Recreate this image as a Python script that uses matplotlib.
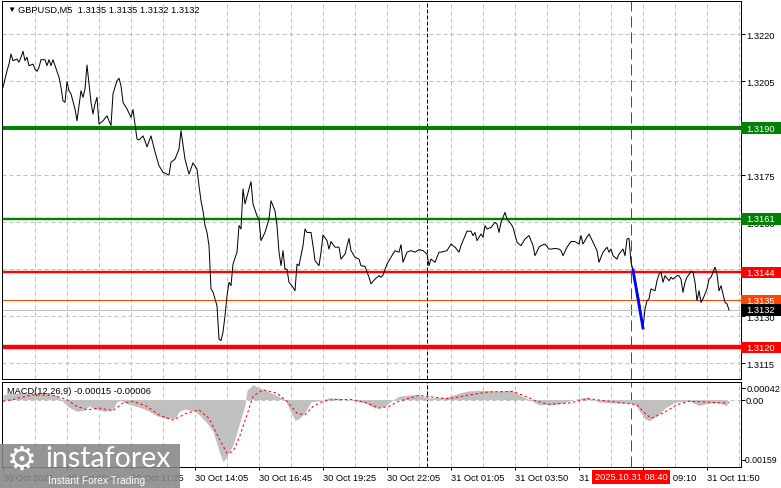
import matplotlib
matplotlib.use('Agg')
import matplotlib.pyplot as plt
from matplotlib.patches import Rectangle
import matplotlib.transforms as mtrans
from matplotlib.lines import Line2D

plt.rcParams['font.family'] = ['Liberation Sans', 'DejaVu Sans']

W, H = 781, 489

symbol_title = "GBPUSD,M5  1.3135 1.3135 1.3132 1.3132"
macd_title = "MACD(12,26,9) -0.00015 -0.00006"

# price line (bar index, close)
price_bars = [
    0, 2, 3, 4, 5, 7, 8, 9, 10, 11,
    12, 13, 15, 16, 17, 18, 19, 21, 22, 23,
    24, 25, 26, 28, 29, 30, 31, 32, 33, 34,
    36, 37, 38, 39, 40, 41, 42, 43, 44, 45,
    46, 47, 48, 50, 52, 53, 54, 55, 57, 58,
    59, 60, 61, 62, 64, 65, 66, 67, 68, 70,
    71, 72, 74, 76, 78, 80, 83, 84, 86, 88,
    89, 91, 93, 95, 97, 98, 99, 100, 101, 102,
    103, 104, 105, 107, 108, 109, 110, 111, 112, 113,
    114, 115, 117, 118, 119, 120, 121, 123, 124, 125,
    127, 128, 129, 131, 133, 134, 136, 137, 138, 139,
    140, 141, 142, 143, 145, 146, 147, 148, 150, 151,
    152, 154, 155, 156, 158, 159, 160, 162, 163, 164,
    166, 168, 169, 171, 173, 174, 176, 178, 179, 181,
    183, 184, 186, 188, 189, 190, 192, 194, 196, 198,
    199, 200, 202, 204, 206, 208, 210, 212, 213, 214,
    216, 218, 219, 222, 224, 226, 228, 229, 232, 234,
    235, 236, 237, 239, 240, 241, 242, 244, 246, 247,
    248, 249, 251, 252, 254, 255, 257, 258, 259, 261,
    263, 264, 265, 266, 268, 269, 271, 273, 274, 276,
    278, 279, 280, 282, 284, 286, 288, 289, 290, 292,
    293, 295, 297, 298, 300, 302, 303, 304, 305, 307,
    308, 310, 311, 312, 313, 314, 315, 318, 320, 321,
    322, 323, 324, 326, 327, 328, 329, 330, 331, 333,
    334, 335, 337, 338, 339, 340, 341, 342, 344, 345,
    346, 347, 348, 349, 350, 352, 353, 354, 356, 357,
    358, 359, 360, 361, 362, 363]
price_close = [
    1.32030, 1.32083, 1.32104, 1.32136, 1.32115, 1.32120, 1.32110, 1.32126, 1.32145, 1.32115,
    1.32126, 1.32099, 1.32104, 1.32088, 1.32081, 1.32094, 1.32118, 1.32118, 1.32099, 1.32118,
    1.32099, 1.32118, 1.32099, 1.32062, 1.32030, 1.31987, 1.31982, 1.32048, 1.32019, 1.32009,
    1.31961, 1.31923, 1.31971, 1.32019, 1.31998, 1.32025, 1.32101, 1.32041, 1.31982, 1.31945,
    1.31977, 1.31998, 1.31913, 1.31923, 1.31939, 1.31923, 1.31908, 1.32009, 1.32051, 1.32059,
    1.32035, 1.31982, 1.31971, 1.31961, 1.31934, 1.31959, 1.31913, 1.31865, 1.31862, 1.31875,
    1.31859, 1.31840, 1.31875, 1.31824, 1.31780, 1.31759, 1.31750, 1.31791, 1.31801, 1.31833,
    1.31892, 1.31801, 1.31753, 1.31789, 1.31769, 1.31716, 1.31668, 1.31636, 1.31589, 1.31567,
    1.31525, 1.31387, 1.31377, 1.31333, 1.31227, 1.31222, 1.31249, 1.31301, 1.31365, 1.31408,
    1.31397, 1.31466, 1.31504, 1.31589, 1.31578, 1.31706, 1.31658, 1.31706, 1.31729, 1.31658,
    1.31620, 1.31610, 1.31541, 1.31567, 1.31610, 1.31668, 1.31636, 1.31589, 1.31504, 1.31461,
    1.31509, 1.31450, 1.31450, 1.31408, 1.31392, 1.31381, 1.31466, 1.31461, 1.31525, 1.31578,
    1.31567, 1.31567, 1.31525, 1.31477, 1.31461, 1.31504, 1.31559, 1.31541, 1.31514, 1.31538,
    1.31520, 1.31520, 1.31482, 1.31498, 1.31548, 1.31509, 1.31488, 1.31482, 1.31461, 1.31459,
    1.31424, 1.31403, 1.31418, 1.31429, 1.31424, 1.31431, 1.31466, 1.31488, 1.31509, 1.31504,
    1.31528, 1.31472, 1.31504, 1.31509, 1.31504, 1.31512, 1.31509, 1.31498, 1.31461, 1.31482,
    1.31472, 1.31504, 1.31504, 1.31509, 1.31530, 1.31520, 1.31504, 1.31525, 1.31571, 1.31571,
    1.31557, 1.31567, 1.31541, 1.31562, 1.31552, 1.31589, 1.31578, 1.31583, 1.31599, 1.31594,
    1.31567, 1.31599, 1.31631, 1.31610, 1.31594, 1.31583, 1.31536, 1.31530, 1.31525, 1.31546,
    1.31557, 1.31541, 1.31525, 1.31493, 1.31520, 1.31525, 1.31530, 1.31514, 1.31514, 1.31516,
    1.31514, 1.31509, 1.31493, 1.31520, 1.31538, 1.31538, 1.31530, 1.31557, 1.31530, 1.31552,
    1.31562, 1.31536, 1.31509, 1.31472, 1.31504, 1.31520, 1.31504, 1.31514, 1.31493, 1.31482,
    1.31498, 1.31514, 1.31493, 1.31546, 1.31548, 1.31472, 1.31447, 1.31355, 1.31262, 1.31323,
    1.31349, 1.31355, 1.31387, 1.31381, 1.31413, 1.31434, 1.31440, 1.31408, 1.31429, 1.31413,
    1.31424, 1.31418, 1.31429, 1.31429, 1.31418, 1.31376, 1.31408, 1.31424, 1.31442, 1.31440,
    1.31408, 1.31349, 1.31381, 1.31344, 1.31355, 1.31387, 1.31418, 1.31424, 1.31456, 1.31434,
    1.31381, 1.31397, 1.31371, 1.31344, 1.31339, 1.31320]
assert len(price_bars) == len(price_close)

# blue trend segment
trend_bars = [315, 320]
trend_vals = [1.31447, 1.31262]

# horizontal levels
level_vals = [1.3190, 1.3161, 1.3144, 1.3135, 1.3132, 1.3120]
level_labels = ['1.3190', '1.3161', '1.3144', '1.3135', '1.3132', '1.3120']
level_line_colors = ['#008000', '#008000', '#FF0000', '#FF4500', '#C0C0C0', '#FF0000']
level_box_colors = ['#008000', '#008000', '#FF0000', '#FF4500', '#000000', '#FF0000']
level_line_px = [4.0, 2.4, 2.4, 1.0, 1.0, 4.4]

price_ticks = [1.3220, 1.3205, 1.3190, 1.3175, 1.3160, 1.3145, 1.3130, 1.3115]
price_tick_labels = ['1.3220', '1.3205', '1.3190', '1.3175', '1.3160', '1.3145', '1.3130', '1.3115']

time_tick_bars = [0, 32, 64, 96, 128, 160, 192, 224, 256, 288, 320, 352]
time_tick_labels = ['30 Oct 2025', '30 Oct 08:45', '30 Oct 11:25', '30 Oct 14:05',
                    '30 Oct 16:45', '30 Oct 19:25', '30 Oct 22:05', '31 Oct 01:05',
                    '31 Oct 03:50', '31 Oct 06:30', '31 Oct 09:10', '31 Oct 11:50']
separator_bar = 212
cursor_bar = 314
cursor_label = '2025.10.31 08:40'

# MACD histogram and signal
hist_bars = [0, 5, 12, 21, 27, 30, 33, 37, 41, 43,
             46, 51, 55, 57, 59, 62, 67, 72, 77, 81,
             86, 88, 91, 96, 98, 102, 105, 108, 110, 111,
             115, 118, 121, 122, 125, 127, 132, 137, 141, 144,
             146, 148, 151, 154, 158, 163, 168, 176, 181, 186,
             191, 194, 198, 206, 213, 221, 226, 232, 238, 248,
             254, 258, 263, 268, 276, 282, 287, 292, 298, 306,
             312, 316, 318, 321, 323, 327, 331, 336, 343, 348,
             353, 358, 362]
hist_vals = [0.00012, 0.00015, 0.00015, 0.00016, 0.0001, -0.00005, -0.00018, -0.00028, -0.00024, -0.00015,
             -0.00022, -0.00028, -0.00022, -0.00005, -0.00002, -0.0001, -0.00016, -0.00025, -0.00038, -0.00044,
             -0.00044, -0.00028, -0.00022, -0.00028, -0.00035, -0.00055, -0.00075, -0.0012, -0.00146, -0.0014,
             -0.00107, -0.0006, -0.00012, 0.00022, 0.00035, 0.0003, 0.0002, 0.0001, 0.0, -0.0003,
             -0.00048, -0.00045, -0.0003, -0.00005, -0.00003, 0.00004, 0.00003, -0.00003, -0.00008, -0.0002,
             -0.00016, -0.00004, 0.00008, 0.00012, 0.00004, 0.00005, 0.00012, 0.0002, 0.00022, 0.0002,
             0.00022, 0.00012, 0.0, -0.00012, -0.00012, -0.00005, 0.00002, 0.00006, -0.00006, -0.00008,
             -0.00008, -0.0001, -0.00025, -0.00045, -0.0005, -0.00038, -0.0002, -0.00006, -0.00003, -0.00014,
             -0.00008, -0.00008, -0.00015]
sig_bars = [0, 5, 9, 15, 25, 32, 37, 42, 48, 55,
            60, 65, 72, 78, 85, 92, 98, 103, 108, 112,
            115, 118, 122, 125, 130, 137, 142, 147, 151, 155,
            160, 165, 175, 182, 188, 193, 198, 208, 218, 223,
            233, 243, 255, 260, 267, 273, 283, 293, 303, 310,
            317, 320, 324, 330, 337, 343, 352, 360, 363]
sig_vals = [-0.00004, 0.0, 0.00005, 0.00011, 0.0001, 0.0, -0.00016, -0.00024, -0.0002, -0.00026,
            -0.00008, -0.00004, -0.00016, -0.00036, -0.00048, -0.00032, -0.00024, -0.00044, -0.00091, -0.00126,
            -0.00122, -0.00091, -0.00036, 0.00008, 0.00023, 0.00015, -0.00004, -0.00032, -0.00036, -0.00016,
            -0.00004, 0.0, 0.0, -0.00008, -0.0002, -0.00016, -0.00004, 0.0001, 0.00004, 0.00002,
            0.00011, 0.00018, 0.00019, 0.0001, -0.00004, -0.00011, -0.00008, 0.00002, -0.00004, -0.00008,
            -0.00012, -0.00028, -0.00044, -0.00032, -0.00012, -0.00004, -0.00006, -0.00008, -0.00006]
macd_max_label = '0.00042'
macd_min_label = '-0.00159'
macd_lim = (-0.00159, 0.00042)

PX = 0.72  # points per pixel at 100 dpi
FS = 6.7
GRID = '#C0C0C0'

fig = plt.figure(figsize=(W / 100, H / 100), dpi=100)
fig.patch.set_facecolor('white')


def fx(px):
    return px / W


def fy(py):
    return 1 - py / H


ax = fig.add_axes([fx(2), fy(380), fx(740.7) - fx(2), fy(2) - fy(380)])
ax2 = fig.add_axes([fx(2), fy(468.3), fx(740.7) - fx(2), fy(382.7) - fy(468.3)])

xlim = (-0.5, 368.85)
for a in (ax, ax2):
    a.set_xlim(*xlim)
    for s in a.spines.values():
        s.set_color('black')
        s.set_linewidth(1.0 * PX)
    a.set_facecolor('white')
    for b in range(16, 369, 16):
        a.axvline(b, color=GRID, lw=PX, ls=(0, (4, 3)), zorder=0)
    a.axvline(separator_bar, color='black', lw=PX, ls=(0, (4, 2)), zorder=1)
    a.axvline(cursor_bar, color='#FF0000', lw=PX, ls=(0, (11, 5)), zorder=1)

# ---- main panel ----
ax.set_ylim(1.310995, 1.323053)
for t in price_ticks:
    ax.axhline(t, color=GRID, lw=PX, ls=(0, (4, 3)), zorder=0)
ax.yaxis.tick_right()
ax.set_yticks(price_ticks)
ax.set_yticklabels(price_tick_labels)
ax.tick_params(axis='y', direction='out', length=4 * PX, width=PX, pad=1.0, labelsize=FS, colors='black')
ax.set_xticks([])

for v, c, w in zip(level_vals, level_line_colors, level_line_px):
    ax.axhline(v, color=c, lw=w * PX, zorder=2)

ax.plot(price_bars, price_close, color='black', lw=1.0 * PX, zorder=4)
ax.plot(trend_bars, trend_vals, color='#0000FF', lw=2.8 * PX, zorder=5)

blend = mtrans.blended_transform_factory(fig.transFigure, ax.transData)
box_h = 11.5 / 31333.0
for v, lab, bc in zip(level_vals, level_labels, level_box_colors):
    r = Rectangle((fx(741.2), v - box_h / 2), fx(781) - fx(741.2), box_h, transform=blend,
                  facecolor=bc, edgecolor='none', clip_on=False, zorder=10)
    ax.add_artist(r)
    ax.text(fx(746.0), v, lab, transform=blend, color='white', fontsize=FS, va='center', ha='left',
            clip_on=False, zorder=11)

fig.text(fx(7), fy(10.5), '\u25BC', fontsize=6, va='center', ha='left', color='black')
fig.text(fx(18), fy(10.5), symbol_title, fontsize=FS, va='center', ha='left', color='black')

# ---- MACD panel ----
ax2.set_ylim(*macd_lim)
ax2.axhline(0, color=GRID, lw=PX, ls=(0, (4, 3)), zorder=0)
ax2.fill_between(hist_bars, hist_vals, 0, color='#C0C0C0', lw=0, zorder=2)
ax2.plot(sig_bars, sig_vals, color='#FF0000', lw=1.0 * PX, ls=(0, (2.5, 2.5)), zorder=3)
ax2.yaxis.tick_right()
ax2.set_yticks([0.0])
ax2.set_yticklabels(['0.00'])
ax2.tick_params(axis='y', direction='out', length=4 * PX, width=PX, pad=1.0, labelsize=FS, colors='black')
ax2.text(1.0 + 5.5 / 738.7, 0.925, macd_max_label, transform=ax2.transAxes, fontsize=FS,
         va='center', ha='left', clip_on=False)
ax2.text(1.0 + 2.0 / 738.7, 0.09, macd_min_label, transform=ax2.transAxes, fontsize=6.3,
         va='center', ha='left', clip_on=False)
for yy in (0.925, 0.09):
    ax2.add_line(Line2D([1.0, 1.0 + 4 / 738.7], [yy, yy], transform=ax2.transAxes, color='black',
                        lw=PX, clip_on=False))
ax2.text(0.0 + 5 / 738.7, 0.9, macd_title, transform=ax2.transAxes, fontsize=FS,
         va='center', ha='left', zorder=6)

ax2.set_xticks(time_tick_bars)
ax2.set_xticklabels(time_tick_labels)
for lbl in ax2.get_xticklabels():
    lbl.set_horizontalalignment('left')
ax2.tick_params(axis='x', direction='out', length=3 * PX, width=PX, pad=2.0, labelsize=FS, colors='black')

xblend = mtrans.blended_transform_factory(ax2.transData, fig.transFigure)
ax2.text(cursor_bar, fy(477.8), cursor_label, transform=xblend, fontsize=FS, color='white',
         ha='center', va='center', clip_on=False, zorder=12,
         bbox=dict(boxstyle='square,pad=0.25', facecolor='#FF0000', edgecolor='none'))

# ---- watermark ----
fig.patches.append(Rectangle((0, 0), fx(180), 1 - fy(44.5), transform=fig.transFigure,
                             facecolor='#878787', edgecolor='none', alpha=0.88, zorder=20))
fig.text(fx(7), fy(460), '\u2699', fontsize=24, color='white', va='center', ha='left', zorder=21,
         family='DejaVu Sans')
fig.text(fx(45), fy(459), 'instaforex', fontsize=20.5, color='white', va='center', ha='left', zorder=21,
         family='Lato')
fig.text(fx(48), fy(481), 'Instant Forex Trading', fontsize=7.4, color='white', va='center', ha='left',
         zorder=21)

fig.savefig('out.png', dpi=100, facecolor='white')
